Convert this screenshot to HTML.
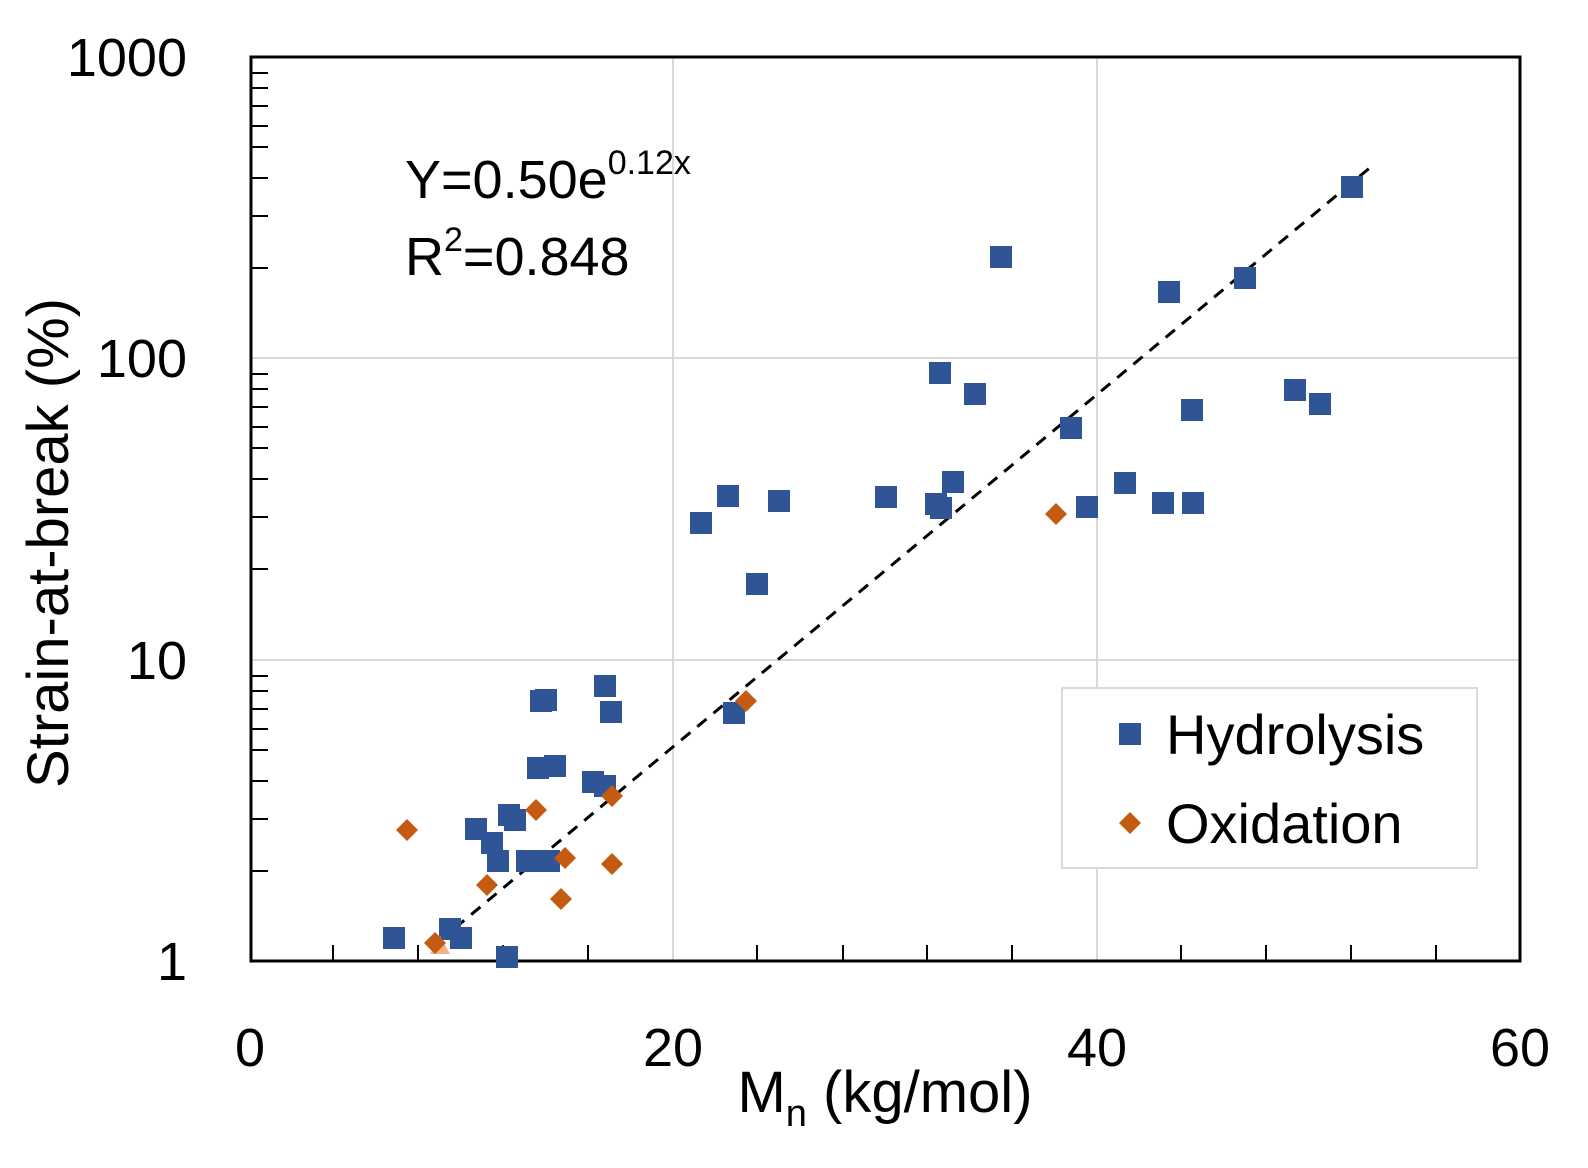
<!DOCTYPE html>
<html><head><meta charset="utf-8"><style>body{margin:0;background:#fff}</style></head><body>
<svg width="1588" height="1163" xmlns="http://www.w3.org/2000/svg" font-family="Liberation Sans, sans-serif">
<rect width="1588" height="1163" fill="#fff"/>
<g stroke="#d9d9d9" stroke-width="2">
<line x1="252" y1="358" x2="1520" y2="358"/><line x1="252" y1="660" x2="1520" y2="660"/>
<line x1="673" y1="57" x2="673" y2="961"/><line x1="1097" y1="57" x2="1097" y2="961"/>
</g>
<g stroke="#000" stroke-width="2">
<line x1="252" y1="73" x2="268" y2="73"/><line x1="252" y1="88" x2="268" y2="88"/><line x1="252" y1="106" x2="268" y2="106"/><line x1="252" y1="126" x2="268" y2="126"/><line x1="252" y1="147" x2="268" y2="147"/><line x1="252" y1="178" x2="268" y2="178"/><line x1="252" y1="216" x2="268" y2="216"/><line x1="252" y1="268" x2="268" y2="268"/>
<line x1="252" y1="374" x2="268" y2="374"/><line x1="252" y1="389" x2="268" y2="389"/><line x1="252" y1="407" x2="268" y2="407"/><line x1="252" y1="427" x2="268" y2="427"/><line x1="252" y1="448" x2="268" y2="448"/><line x1="252" y1="479" x2="268" y2="479"/><line x1="252" y1="517" x2="268" y2="517"/><line x1="252" y1="569" x2="268" y2="569"/>
<line x1="252" y1="676" x2="268" y2="676"/><line x1="252" y1="691" x2="268" y2="691"/><line x1="252" y1="709" x2="268" y2="709"/><line x1="252" y1="729" x2="268" y2="729"/><line x1="252" y1="750" x2="268" y2="750"/><line x1="252" y1="781" x2="268" y2="781"/><line x1="252" y1="819" x2="268" y2="819"/><line x1="252" y1="871" x2="268" y2="871"/>
<line x1="333" y1="945" x2="333" y2="961"/><line x1="418" y1="945" x2="418" y2="961"/><line x1="503" y1="945" x2="503" y2="961"/><line x1="588" y1="945" x2="588" y2="961"/><line x1="757" y1="945" x2="757" y2="961"/><line x1="843" y1="945" x2="843" y2="961"/><line x1="927" y1="945" x2="927" y2="961"/><line x1="1012" y1="945" x2="1012" y2="961"/><line x1="1181" y1="945" x2="1181" y2="961"/><line x1="1266" y1="945" x2="1266" y2="961"/><line x1="1351" y1="945" x2="1351" y2="961"/><line x1="1436" y1="945" x2="1436" y2="961"/>
</g>
<rect x="251" y="57" width="1269" height="904" fill="none" stroke="#000" stroke-width="3"/>
<line x1="455" y1="928" x2="1372" y2="166" stroke="#000" stroke-width="3" stroke-dasharray="12,9"/>
<g fill="#2f5597">
<rect x="383" y="927" width="22" height="22"/><rect x="439" y="918" width="22" height="22"/><rect x="450" y="927" width="22" height="22"/><rect x="496" y="946" width="22" height="22"/><rect x="465" y="818" width="22" height="22"/><rect x="481" y="832" width="22" height="22"/><rect x="487" y="850" width="22" height="22"/><rect x="498" y="804" width="22" height="22"/><rect x="504" y="809" width="22" height="22"/><rect x="516" y="850" width="22" height="22"/><rect x="527" y="850" width="22" height="22"/><rect x="538" y="850" width="22" height="22"/><rect x="527" y="757" width="22" height="22"/><rect x="530" y="690" width="22" height="22"/><rect x="535" y="689" width="22" height="22"/><rect x="544" y="755" width="22" height="22"/><rect x="582" y="771" width="22" height="22"/><rect x="594" y="775" width="22" height="22"/><rect x="594" y="675" width="22" height="22"/><rect x="600" y="701" width="22" height="22"/><rect x="690" y="512" width="22" height="22"/><rect x="717" y="485" width="22" height="22"/><rect x="723" y="702" width="22" height="22"/><rect x="746" y="573" width="22" height="22"/><rect x="768" y="490" width="22" height="22"/><rect x="875" y="486" width="22" height="22"/><rect x="925" y="493" width="22" height="22"/><rect x="930" y="497" width="22" height="22"/><rect x="929" y="362" width="22" height="22"/><rect x="942" y="471" width="22" height="22"/><rect x="964" y="383" width="22" height="22"/><rect x="990" y="246" width="22" height="22"/><rect x="1060" y="417" width="22" height="22"/><rect x="1076" y="496" width="22" height="22"/><rect x="1114" y="472" width="22" height="22"/><rect x="1152" y="492" width="22" height="22"/><rect x="1158" y="281" width="22" height="22"/><rect x="1181" y="399" width="22" height="22"/><rect x="1182" y="492" width="22" height="22"/><rect x="1234" y="267" width="22" height="22"/><rect x="1284" y="379" width="22" height="22"/><rect x="1309" y="393" width="22" height="22"/><rect x="1341" y="176" width="22" height="22"/>
</g>
<polygon points="440,936 450,954 430,954" fill="#f4b183"/>
<g fill="#c55a11">
<polygon points="407,819 418,830 407,841 396,830"/><polygon points="435,932 446,943 435,954 424,943"/><polygon points="487,874 498,885 487,896 476,885"/><polygon points="536,799 547,810 536,821 525,810"/><polygon points="561,888 572,899 561,910 550,899"/><polygon points="565,847 576,858 565,869 554,858"/><polygon points="612,785 623,796 612,807 601,796"/><polygon points="612,853 623,864 612,875 601,864"/><polygon points="746,690 757,701 746,712 735,701"/><polygon points="1056,503 1067,514 1056,525 1045,514"/>
</g>
<g font-size="54" fill="#000">
<text x="405" y="198">Y=0.50e<tspan font-size="34" dy="-24">0.12x</tspan></text>
<text x="405" y="275">R<tspan font-size="34" dy="-24">2</tspan><tspan dy="24">=0.848</tspan></text>
</g>
<g font-size="54" text-anchor="end">
<text x="187" y="76">1000</text><text x="187" y="377">100</text><text x="187" y="679">10</text><text x="187" y="980">1</text>
</g>
<g font-size="54" text-anchor="middle">
<text x="250" y="1066">0</text><text x="673" y="1066">20</text><text x="1097" y="1066">40</text><text x="1520" y="1066">60</text>
<text x="885" y="1112" font-size="58">M<tspan font-size="38" dy="14">n</tspan><tspan dy="-14"> (kg/mol)</tspan></text>
<text transform="translate(68,543) rotate(-90)" font-size="58">Strain-at-break (%)</text>
</g>
<rect x="1062" y="688" width="415" height="180" fill="#fff" stroke="#d9d9d9" stroke-width="2"/>
<rect x="1119" y="723" width="22" height="22" fill="#2f5597"/>
<polygon points="1130,812 1141,823 1130,834 1119,823" fill="#c55a11"/>
<g font-size="56"><text x="1166" y="754">Hydrolysis</text><text x="1166" y="843">Oxidation</text></g>
</svg>
</body></html>
